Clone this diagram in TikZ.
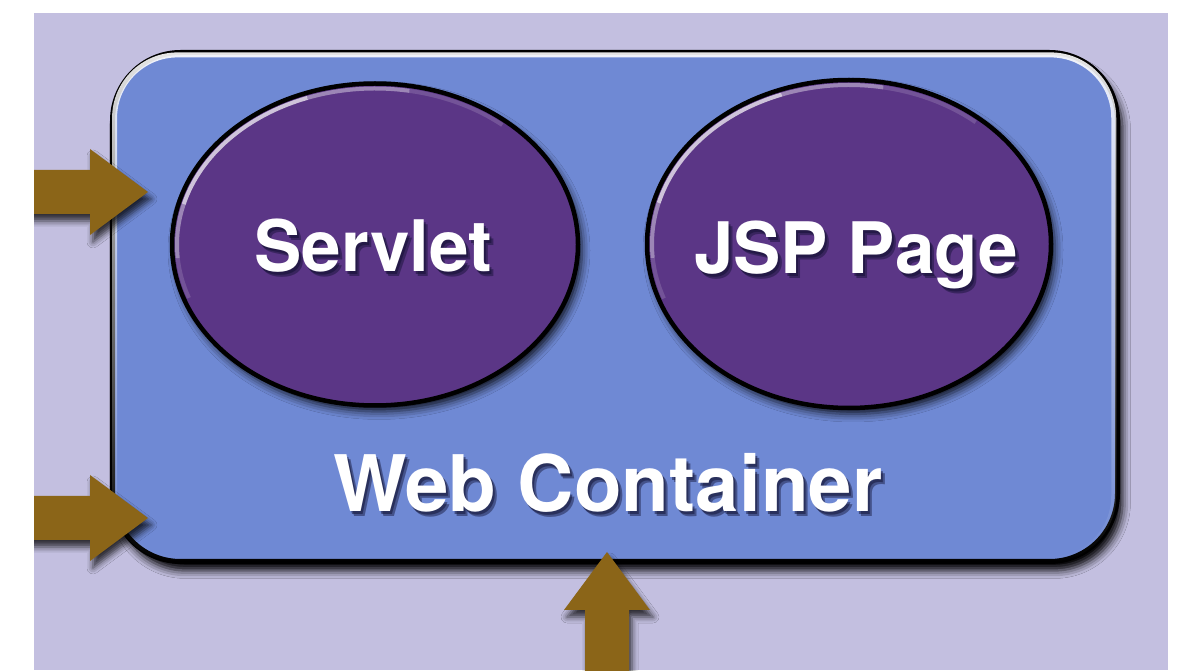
\documentclass[tikz,border=0pt]{standalone}
\usepackage{fontspec}
\newfontfamily\headfont{TeX Gyre Heros}
\usetikzlibrary{shapes.geometric,shadows.blur,fadings}

\definecolor{pagebg}{RGB}{195,191,224}
\definecolor{boxblue}{RGB}{111,137,212}
\definecolor{unitpurple}{RGB}{91,54,134}
\definecolor{flowbrown}{RGB}{139,101,24}
\definecolor{inkshade}{RGB}{16,16,48}

% glossy rim: bright at the top edge, gone by the middle
\tikzfading[name=glossfade, top color=transparent!0, middle color=transparent!100, bottom color=transparent!100]

\tikzset{
  container/.style={draw=black, line width=5pt, fill=boxblue, rounded corners=68pt,
    minimum width=1005pt, minimum height=509pt, inner sep=0pt,
    blur shadow={shadow xshift=5pt, shadow yshift=-9pt, shadow blur radius=8pt, shadow opacity=100}},
  unit/.style={ellipse, draw=black, line width=4.5pt, fill=unitpurple, inner sep=0pt,
    blur shadow={shadow xshift=4pt, shadow yshift=-6pt, shadow blur radius=8pt, shadow opacity=85}},
  flow/.style={fill=flowbrown,
    blur shadow={shadow xshift=3pt, shadow yshift=-7pt, shadow blur radius=6pt, shadow opacity=75}},
  caption/.style={text=white, inner sep=0pt, anchor=base},
  rim/.style={white, line width=4pt, opacity=0.85, path fading=glossfade},
  shine/.style={white, line width=4pt},
}

% white bold label (size #3) with a soft dark drop shadow
\newcommand\castlabel[4]{%
  \foreach \dx/\dy/\op in {2/-3/0.5, 4/-5/0.45}{
    \node[caption,font=\headfont\bfseries\fontsize{#3}{#3}\selectfont,text=inkshade,opacity=\op]
      at ([shift={(\dx pt,\dy pt)}]#2) {#4};
  }
  \node[caption,font=\headfont\bfseries\fontsize{#3}{#3}\selectfont] (#1) at (#2) {#4};
}

% upper-left sheen inside an ellipse node #1 with inner radii #2 and #3
\newcommand\ellipsesheen[3]{%
  \foreach \a/\b/\op in {200/185/0.15, 185/165/0.4, 165/110/0.7, 110/80/0.4, 80/50/0.15}{
    \draw[shine, opacity=\op] ([shift={(\a:#2 and #3)}]#1.center)
      arc[start angle=\a, end angle=\b, x radius=#2, y radius=#3];
  }
}

\begin{document}
\begin{tikzpicture}[x=1pt,y=1pt]
\useasboundingbox (0,0) rectangle (1179,670);
\fill[white] (0,0) rectangle (1179,670);
\begin{scope}
  \clip (34,0) rectangle (1168,657);
  \fill[pagebg] (34,0) rectangle (1168,657);

  % web container with its glossy top edge
  \node[container] (wc) at (615,363) {};
  \draw[rim, line width=5pt, opacity=0.9, rounded corners=63pt]
    ([shift={(5pt,-5pt)}]wc.north west) rectangle ([shift={(-5pt,5pt)}]wc.south east);

  % components, each lit from the upper left
  \node[unit, minimum width=406pt, minimum height=322pt] (servlet) at (375,425.5) {};
  \node[unit, minimum width=404pt, minimum height=328pt] (jsp) at (849,426) {};
  \ellipsesheen{servlet}{198pt}{156pt}
  \ellipsesheen{jsp}{197pt}{159pt}

  % labels
  \coordinate (servletbase) at ([shift={(-2pt,-27.5pt)}]servlet.center);
  \coordinate (jspbase) at ([shift={(7pt,-30pt)}]jsp.center);
  \coordinate (wcbase) at ([shift={(-7pt,-205pt)}]wc.center);
  \castlabel{servlettext}{servletbase}{71pt}{Servlet}
  \castlabel{jsptext}{jspbase}{71pt}{JSP Page}
  \castlabel{wctext}{wcbase}{78pt}{Web Container}

  % incoming requests
  \coordinate (feedA) at (148,478);
  \coordinate (feedB) at (148,152);
  \coordinate (feedC) at (607,118);
  \fill[flow] (feedA) -- ++(-58,43) -- ++(0,-21) -- ++(-70,0) -- ++(0,-44) -- ++(70,0) -- ++(0,-21) -- cycle;
  \fill[flow] (feedB) -- ++(-58,43) -- ++(0,-21) -- ++(-70,0) -- ++(0,-44) -- ++(70,0) -- ++(0,-21) -- cycle;
  \fill[flow] (feedC) -- ++(43,-58) -- ++(-21,0) -- ++(0,-70) -- ++(-44,0) -- ++(0,70) -- ++(-21,0) -- cycle;
\end{scope}
\end{tikzpicture}
\end{document}
